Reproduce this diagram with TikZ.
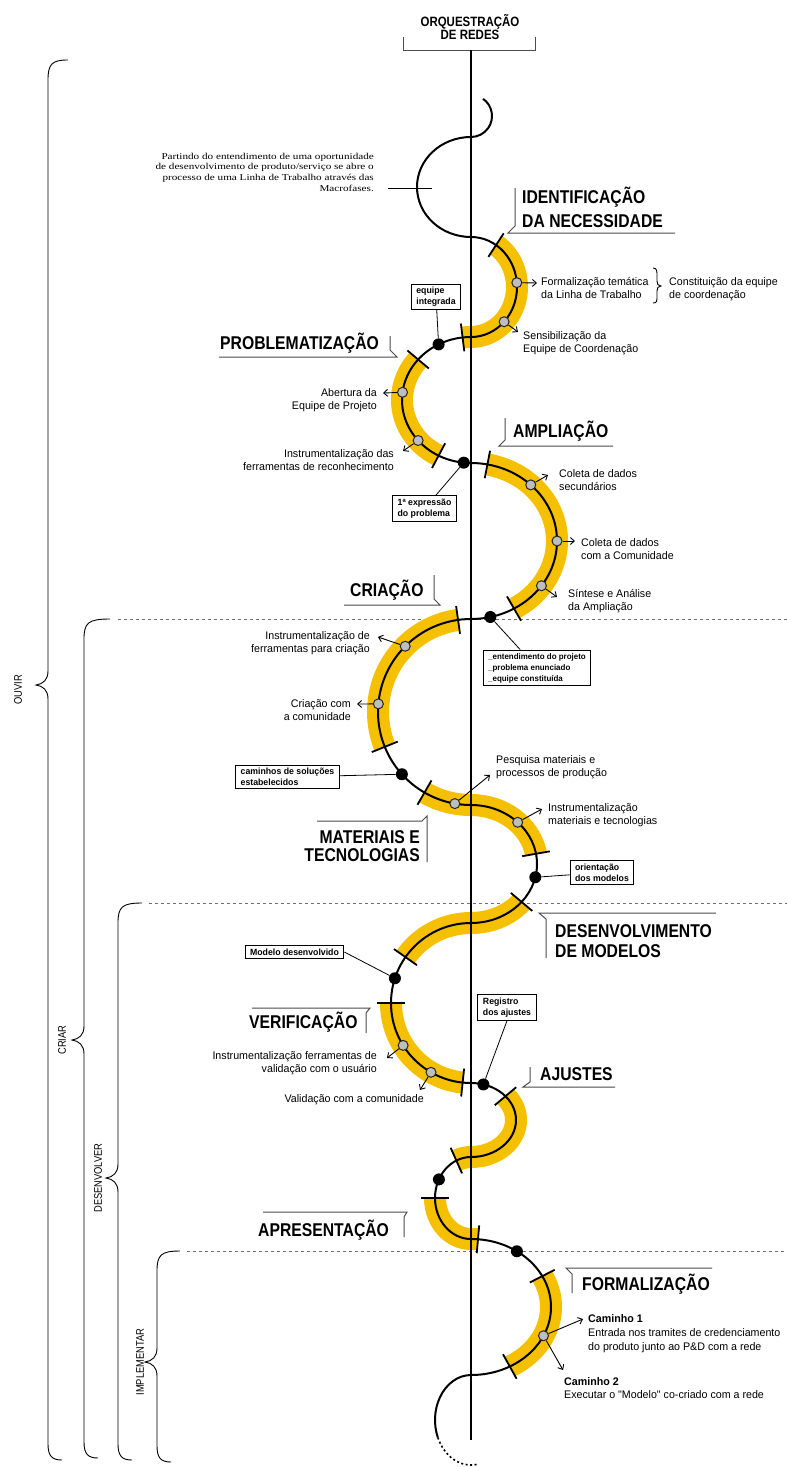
\documentclass[tikz,border=0pt]{standalone}
\usepackage{fontspec}
\setmainfont{Liberation Sans}
\newfontfamily\labelfont{Liberation Sans}[FakeStretch=0.97]
\newfontfamily\headfont{Liberation Sans}[FakeStretch=0.85]
\newfontfamily\parafont{Liberation Serif}[FakeStretch=1.24]
\usetikzlibrary{arrows.meta,positioning}
\definecolor{bandyellow}{RGB}{244,192,0}
\definecolor{dotgray}{RGB}{190,190,190}
\definecolor{dashgray}{RGB}{110,110,110}

% point on an arc of the thread: name, centre x, centre y, x radius, y radius, angle
\newcommand{\arcpoint}[6]{\coordinate (#1) at ({#2+#4*cos(#6)},{#3+#5*sin(#6)});}
% tick across the yellow band: centre x, centre y, x radius, y radius, angle
\newcommand{\bandtick}[5]{\draw[bandtick] ({#1+(#3-14)*cos(#5)},{#2+(#4-14)*sin(#5)}) -- ({#1+(#3+14)*cos(#5)},{#2+(#4+14)*sin(#5)});}
% left brace of a stage: x, top y, tip y, bottom y, x of top end
\newcommand{\phasebrace}[5]{\draw[bracestyle] (#5,#2) .. controls ({#1+4},#2) and (#1,{#2+4}) .. (#1,{#2+20}) -- (#1,{#3-14}) .. controls (#1,{#3-5}) and ({#1-5},{#3-1}) .. ({#1-12},#3) .. controls ({#1-5},{#3+1}) and (#1,{#3+5}) .. (#1,{#3+14}) -- (#1,{#4-16}) .. controls (#1,{#4-4}) and ({#1+4},#4) .. ({#1+14},#4);}

\begin{document}
\begin{tikzpicture}[x=1pt,y=1pt,yscale=-1,
  thread/.style={line width=2pt},
  band/.style={line width=22pt, draw=bandyellow},
  bandtick/.style={line width=1.8pt},
  axisline/.style={line width=1.3pt},
  calloutline/.style={draw=black!70, line width=1pt},
  phasetitle/.style={font=\headfont\bfseries\fontsize{18.5}{21}\selectfont, inner sep=0pt},
  lbl/.style={font=\labelfont\fontsize{11}{13.5}\selectfont, inner sep=0pt},
  tagbox/.style={draw, line width=1pt, font=\labelfont\bfseries\fontsize{9}{11}\selectfont, align=left, inner xsep=5pt, inner ysep=3pt},
  milestone/.style={circle, fill=black, inner sep=0pt, minimum size=12pt},
  actpoint/.style={circle, fill=dotgray, draw=black!85, line width=1pt, inner sep=0pt, minimum size=10pt},
  actarrow/.style={line width=0.9pt, -{Straight Barb[length=4pt,width=7pt]}},
  tagline/.style={line width=0.8pt},
  divider/.style={draw=dashgray, line width=1pt, dash pattern=on 3pt off 3pt},
  bracestyle/.style={line width=0.9pt},
  stagetext/.style={font=\headfont\fontsize{11}{12}\selectfont, rotate=90, inner sep=0pt}
]
\fill[white] (0,0) rectangle (787,1467);
\useasboundingbox (0,0) rectangle (787,1467);

% stage dividers
\draw[divider] (118,619) -- (787,619);
\draw[divider] (149,903) -- (787,903);
\draw[divider] (187,1251) -- (787,1251);

% stage braces
\phasebrace{48}{60}{685}{1460}{68}
\phasebrace{84}{619}{1040}{1458}{110}
\phasebrace{118}{903}{1178}{1460}{142}
\phasebrace{157}{1251}{1362}{1462}{180}
\node[stagetext] (sOuvir) at (18,690) {OUVIR};
\node[stagetext] (sCriar) at (62,1040) {CRIAR};
\node[stagetext] (sDesenv) at (98,1178) {DESENVOLVER};
\node[stagetext] (sImpl) at (140,1362) {IMPLEMENTAR};

% top title
\node[font=\headfont\bfseries\fontsize{13.5}{13}\selectfont, align=center, anchor=base, inner sep=0pt] (hOrq) at (470,39) {ORQUESTRAÇÃO\\DE REDES};
\draw[calloutline] (403,37) -- (403,50) -- (535,50) -- (535,37);

% yellow bands of the macrophases
\draw[band] ({471+46*cos(-57)},{287+50*sin(-57)}) arc[start angle=-57,end angle=90,x radius=46,y radius=50] arc[start angle=270,end angle=263,x radius=69,y radius=63];
\draw[band] ({471+69*cos(220)},{400+63*sin(220)}) arc[start angle=220,end angle=118,x radius=69,y radius=63];
\draw[band] ({471+86*cos(-79)},{541+78*sin(-79)}) arc[start angle=-79,end angle=60,x radius=86,y radius=78];
\draw[band] ({471+93*cos(262)},{712+93*sin(262)}) arc[start angle=262,end angle=158,radius=93];
\draw[band] ({471+93*cos(120)},{712+93*sin(120)}) arc[start angle=120,end angle=90,radius=93] arc[start angle=-90,end angle=-10,x radius=66,y radius=59];
\draw[band] ({471+66*cos(40)},{864+59*sin(40)}) arc[start angle=40,end angle=90,x radius=66,y radius=59] arc[start angle=270,end angle=215,radius=80];
\draw[band] ({471+80*cos(180)},{1003+80*sin(180)}) arc[start angle=180,end angle=96,radius=80];
\draw[band] ({471+45*cos(-40)},{1120+37*sin(-40)}) arc[start angle=-40,end angle=90,x radius=45,y radius=37] arc[start angle=270,end angle=246,x radius=36,y radius=41];
\draw[band] ({471+36*cos(180)},{1198+41*sin(180)}) arc[start angle=180,end angle=90,x radius=36,y radius=41] arc[start angle=-90,end angle=-85,x radius=80,y radius=68];
\draw[band] ({471+80*cos(-27)},{1307+68*sin(-27)}) arc[start angle=-27,end angle=61,x radius=80,y radius=68];

% network axis
\draw[axisline] (471,50) -- (471,1440);

% the thread of the work line
\draw[thread] ({471+21*cos(-55)},{116+21*sin(-55)})
  arc[start angle=-55,end angle=90,radius=21]
  arc[start angle=270,end angle=90,x radius=54,y radius=50]
  arc[start angle=-90,end angle=90,x radius=46,y radius=50]
  arc[start angle=270,end angle=90,x radius=69,y radius=63]
  arc[start angle=-90,end angle=90,x radius=86,y radius=78]
  arc[start angle=270,end angle=90,radius=93]
  arc[start angle=-90,end angle=90,x radius=66,y radius=59]
  arc[start angle=270,end angle=90,radius=80]
  arc[start angle=-90,end angle=90,x radius=45,y radius=37]
  arc[start angle=270,end angle=90,x radius=36,y radius=41]
  arc[start angle=-90,end angle=90,x radius=80,y radius=68]
  arc[start angle=270,end angle=157,x radius=36,y radius=45];
\draw[line width=1.6pt, dash pattern=on 2pt off 2.5pt] ({471+36*cos(157)},{1420+45*sin(157)}) arc[start angle=157,end angle=80,x radius=36,y radius=45];

% ticks at the ends of the bands
\foreach \cy/\rx/\ry/\ang in {287/46/50/-57, 400/69/63/263, 400/69/63/220, 400/69/63/118,
    541/86/78/-79, 541/86/78/60, 712/93/93/262, 712/93/93/158, 712/93/93/120, 864/66/59/-10,
    864/66/59/40, 1003/80/80/215, 1003/80/80/180, 1003/80/80/96, 1120/45/37/-40,
    1198/36/41/246, 1198/36/41/180, 1307/80/68/-85, 1307/80/68/-27, 1307/80/68/61}
  {\bandtick{471}{\cy}{\rx}{\ry}{\ang}}

% activities (gray) and milestones (black)
\arcpoint{pg1}{471}{287}{46}{50}{-5}
\arcpoint{pg2}{471}{287}{46}{50}{44}
\arcpoint{pg3}{471}{400}{69}{63}{187}
\arcpoint{pg4}{471}{400}{69}{63}{140}
\arcpoint{pg5}{471}{541}{86}{78}{-46}
\arcpoint{pg6}{471}{541}{86}{78}{0}
\arcpoint{pg7}{471}{541}{86}{78}{35}
\arcpoint{pg8}{471}{712}{93}{93}{225}
\arcpoint{pg9}{471}{712}{93}{93}{185}
\arcpoint{pg10}{471}{712}{93}{93}{100}
\arcpoint{pg11}{471}{864}{66}{59}{-45}
\arcpoint{pg12}{471}{1003}{80}{80}{148}
\arcpoint{pg13}{471}{1003}{80}{80}{120}
\arcpoint{pg14}{471}{1307}{80}{68}{25}
\arcpoint{pm1}{471}{400}{69}{63}{242}
\arcpoint{pm2}{471}{400}{69}{63}{96}
\arcpoint{pm3}{471}{541}{86}{78}{77}
\arcpoint{pm4}{471}{712}{93}{93}{138}
\arcpoint{pm5}{471}{864}{66}{59}{13}
\arcpoint{pm6}{471}{1003}{80}{80}{198}
\arcpoint{pm7}{471}{1120}{45}{37}{-74}
\arcpoint{pm8}{471}{1198}{36}{41}{207}
\arcpoint{pm9}{471}{1307}{80}{68}{-55}
\foreach \i in {1,...,14} {\node[actpoint] (g\i) at (pg\i) {};}
\foreach \i in {1,...,9} {\node[milestone] (m\i) at (pm\i) {};}

% activity labels (base = last line)
\node[lbl, anchor=base west, align=left] (lblForm) at (541,298.5) {Formalização temática\\da Linha de Trabalho};
\coordinate (tipForm) at (537,283);
\draw[actarrow] (g1) -- (tipForm);
\draw[bracestyle] (653,268) .. controls (657,268) and (657,271) .. (657,276) -- (657,281) .. controls (657,284) and (658,286) .. (661,286) .. controls (658,286) and (657,288) .. (657,291) -- (657,296) .. controls (657,301) and (657,303) .. (653,303);
\node[lbl, anchor=base west, align=left] (lblConst) at (669,298.5) {Constituição da equipe\\de coordenação};
\node[lbl, anchor=base west, align=left] (lblSens) at (523,352.5) {Sensibilização da\\Equipe de Coordenação};
\coordinate (tipSens) at (518,332);
\draw[actarrow] (g2) -- (tipSens);
\node[lbl, anchor=base east, align=right] (lblAbert) at (377,409.5) {Abertura da\\Equipe de Projeto};
\coordinate (tipAbert) at (383,393);
\draw[actarrow] (g3) -- (tipAbert);
\node[lbl, anchor=base east, align=right] (lblReco) at (394,470.5) {Instrumentalização das\\ferramentas de reconhecimento};
\coordinate (tipReco) at (403,451);
\draw[actarrow] (g4) -- (tipReco);
\node[lbl, anchor=base west, align=left] (lblSec) at (559,490.5) {Coleta de dados\\secundários};
\coordinate (tipSec) at (548,475);
\draw[actarrow] (g5) -- (tipSec);
\node[lbl, anchor=base west, align=left] (lblCom) at (581,559.5) {Coleta de dados\\com a Comunidade};
\coordinate (tipCom) at (575,541);
\draw[actarrow] (g6) -- (tipCom);
\node[lbl, anchor=base west, align=left] (lblSint) at (568,610.5) {Síntese e Análise\\da Ampliação};
\coordinate (tipSint) at (557,597);
\draw[actarrow] (g7) -- (tipSint);
\node[lbl, anchor=base east, align=right] (lblFerCri) at (370,652.5) {Instrumentalização de\\ferramentas para criação};
\coordinate (tipFerCri) at (378,637);
\draw[actarrow] (g8) -- (tipFerCri);
\node[lbl, anchor=base east, align=right] (lblCriCom) at (351,720.5) {Criação com\\a comunidade};
\coordinate (tipCriCom) at (357,704);
\draw[actarrow] (g9) -- (tipCriCom);
\node[lbl, anchor=base west, align=left] (lblPesq) at (496,776.5) {Pesquisa materiais e\\processos de produção};
\coordinate (tipPesq) at (490,775);
\draw[actarrow] (g10) -- (tipPesq);
\node[lbl, anchor=base west, align=left] (lblMat) at (548,824.5) {Instrumentalização\\materiais e tecnologias};
\coordinate (tipMat) at (542,809);
\draw[actarrow] (g11) -- (tipMat);
\node[lbl, anchor=base east, align=right] (lblVal) at (377,1072.5) {Instrumentalização ferramentas de\\validação com o usuário};
\coordinate (tipVal) at (387,1058);
\draw[actarrow] (g12) -- (tipVal);
\node[lbl, anchor=base east, align=right] (lblValCom) at (424,1102) {Validação com a comunidade};
\coordinate (tipValCom) at (420,1090);
\draw[actarrow] (g13) -- (tipValCom);
\node[lbl, anchor=base west, align=left, font=\labelfont\fontsize{11}{14}\selectfont] (lblCam1) at (588,1350) {\bfseries Caminho 1\\Entrada nos tramites de credenciamento\\do produto junto ao P\&D com a rede};
\coordinate (tipCam1) at (583,1319);
\draw[actarrow] (g14) -- (tipCam1);
\node[lbl, anchor=base west, align=left] (lblCam2) at (564,1398.5) {\bfseries Caminho 2\\Executar o "Modelo" co-criado com a rede};
\coordinate (tipCam2) at (563,1370);
\draw[actarrow] (g14) -- (tipCam2);

% milestone tags
\node[tagbox] (tagEquipe) at (436,297) {equipe\\integrada};
\node[tagbox] (tagExpr) at (424.5,508.5) {1ª expressão\\do problema};
\node[tagbox, font=\labelfont\bfseries\fontsize{8.2}{11}\selectfont] (tagProj) at (537,668) {\_entendimento do projeto\\\_problema enunciado\\\_equipe constituída};
\node[tagbox] (tagCaminhos) at (287.5,777) {caminhos de soluções\\estabelecidos};
\node[tagbox] (tagOrient) at (602,872.5) {orientação\\dos modelos};
\node[tagbox] (tagModelo) at (294.5,952) {Modelo desenvolvido};
\node[tagbox] (tagRegistro) at (507,1007.5) {Registro\\dos ajustes};
\draw[tagline] (tagEquipe) -- (m1);
\draw[tagline] (tagExpr) -- (m2);
\draw[tagline] (m3) -- (tagProj);
\draw[tagline] (tagCaminhos) -- (m4);
\draw[tagline] (m5) -- (tagOrient);
\draw[tagline] (tagModelo.east) -- (m6);
\draw[tagline] (tagRegistro.south) -- (m7);

% macrophase titles
\node[phasetitle, anchor=base west, align=left, font=\headfont\bfseries\fontsize{18.5}{24}\selectfont] (hIdent) at (522,227) {IDENTIFICAÇÃO\\DA NECESSIDADE};
\draw[calloutline] (515,188) -- (515,226) -- (508,233) -- (675,233);
\node[phasetitle, anchor=base west] (hProb) at (220,349) {PROBLEMATIZAÇÃO};
\draw[calloutline] (219,357) -- (397,357) -- (390,350) -- (390,336);
\node[phasetitle, anchor=base west] (hAmpl) at (513,437) {AMPLIAÇÃO};
\draw[calloutline] (505,418) -- (505,440) -- (499,446) -- (613,446);
\node[phasetitle, anchor=base west] (hCria) at (350,596) {CRIAÇÃO};
\draw[calloutline] (344,605) -- (440,605) -- (434,599) -- (434,575);
\node[phasetitle, anchor=base east, align=right, font=\headfont\bfseries\fontsize{18.5}{18}\selectfont] (hMat) at (420,861) {MATERIAIS E\\TECNOLOGIAS};
\draw[calloutline] (317,821) -- (422,821) -- (427,816) -- (427,862);
\node[phasetitle, anchor=base west, align=left, font=\headfont\bfseries\fontsize{18.5}{20}\selectfont] (hDesenv) at (555,957) {DESENVOLVIMENTO\\DE MODELOS};
\draw[calloutline] (716,913) -- (539,913) -- (546,919) -- (546,958);
\node[phasetitle, anchor=base west] (hVerif) at (249,1028) {VERIFICAÇÃO};
\draw[calloutline] (252,1008) -- (370,1008) -- (366,1013) -- (366,1033);
\node[phasetitle, anchor=base west] (hAjust) at (540,1080) {AJUSTES};
\draw[calloutline] (530,1067) -- (530,1082) -- (523,1087) -- (615,1087);
\node[phasetitle, anchor=base west] (hApres) at (258,1236) {APRESENTAÇÃO};
\draw[calloutline] (263,1212) -- (407,1212) -- (404,1217) -- (404,1237);
\node[phasetitle, anchor=base west] (hForm) at (582,1290) {FORMALIZAÇÃO};
\draw[calloutline] (712,1268) -- (566,1268) -- (572,1274) -- (572,1293);

% opening note
\node[font=\parafont\fontsize{9}{10.8}\selectfont, anchor=base east, align=right, inner sep=0pt] (note) at (374,191.4) {Partindo do entendimento de uma oportunidade\\de desenvolvimento de produto/serviço se abre o\\processo de uma Linha de Trabalho através das\\Macrofases.};
\draw[line width=1pt] (388,188) -- (432,188);
\end{tikzpicture}
\end{document}
